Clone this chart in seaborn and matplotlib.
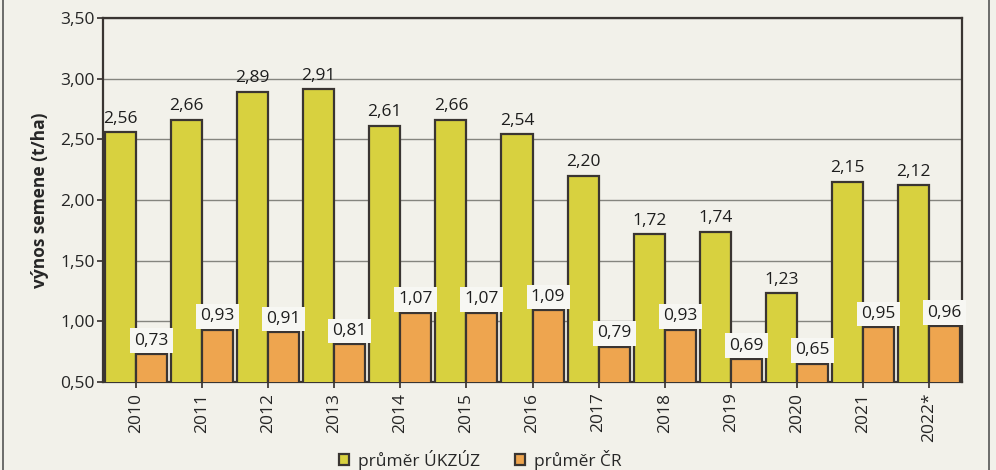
import pandas as pd
import matplotlib.pyplot as plt
import seaborn as sns
from matplotlib.patches import Rectangle

# data
years = ['2010', '2011', '2012', '2013', '2014', '2015', '2016',
         '2017', '2018', '2019', '2020', '2021', '2022*']
prumer_ukzuz = [2.56, 2.66, 2.89, 2.91, 2.61, 2.66, 2.54,
                2.20, 1.72, 1.74, 1.23, 2.15, 2.12]
prumer_cr = [0.73, 0.93, 0.91, 0.81, 1.07, 1.07, 1.09,
             0.79, 0.93, 0.69, 0.65, 0.95, 0.96]
series_names = ['průměr ÚKZÚZ', 'průměr ČR']
y_ticks = [0.5, 1.0, 1.5, 2.0, 2.5, 3.0, 3.5]

bg = '#f2f1ea'
yellow = '#d8d13f'
orange = '#eea54f'
edge = '#3a3532'

df = pd.DataFrame({
    'rok': years * 2,
    'vynos': prumer_ukzuz + prumer_cr,
    'serie': [series_names[0]] * len(years) + [series_names[1]] * len(years),
})

sns.set_theme(style='white')
plt.rcParams['font.family'] = ['Open Sans', 'DejaVu Sans']

fig = plt.figure(figsize=(9.96, 4.7), dpi=100, facecolor=bg)
ax = fig.add_axes([0.1034, 0.187, 0.8625, 0.775])
ax.set_facecolor(bg)

sns.barplot(data=df, x='rok', y='vynos', hue='serie', order=years,
            hue_order=series_names, palette=[yellow, orange],
            edgecolor=edge, linewidth=1.6, width=0.94, saturation=1,
            ax=ax, zorder=3)

ax.set_ylim(0.5, 3.5)
ax.set_yticks(y_ticks)
ax.set_yticklabels([f'{v:.2f}'.replace('.', ',') for v in y_ticks], fontsize=12.5)
ax.yaxis.grid(True, color='#85857f', linewidth=1.0, zorder=0)
ax.set_axisbelow(True)
ax.tick_params(axis='y', length=4, color=edge, pad=2, left=True)
ax.tick_params(axis='x', labelrotation=90, labelsize=12.5, length=4,
               color=edge, bottom=True)
ax.set_xlabel('')
ax.set_ylabel('výnos semene (t/ha)', fontsize=12.5, fontweight='bold', labelpad=8)

for s in ax.spines.values():
    s.set_color(edge)
    s.set_linewidth(1.6)

# value labels
for container, vals, boxed in zip(ax.containers, [prumer_ukzuz, prumer_cr], [False, True]):
    for bar, v in zip(container, vals):
        x = bar.get_x() + bar.get_width() / 2
        txt = f'{v:.2f}'.replace('.', ',')
        kw = {}
        if boxed:
            kw['bbox'] = dict(boxstyle='square,pad=0.25', facecolor='#f7f7f3',
                              edgecolor='none')
        ax.text(x, v + 0.045, txt, ha='center', va='bottom', fontsize=12.5,
                color='#1e1e1e', zorder=5, **kw)

handles, labels = ax.get_legend_handles_labels()
ax.legend(handles, labels, loc='center', bbox_to_anchor=(0.482, 0.022),
          bbox_transform=fig.transFigure, ncol=2, frameon=False,
          fontsize=12.5, handlelength=0.6, handleheight=0.6,
          handletextpad=0.5, columnspacing=2.0)

# outer frame
fig.patches.append(Rectangle((0.003, -0.01), 0.99, 1.05, transform=fig.transFigure,
                             fill=False, edgecolor='#555555', linewidth=1.2))

fig.savefig('out.png', dpi=100, facecolor=bg)
